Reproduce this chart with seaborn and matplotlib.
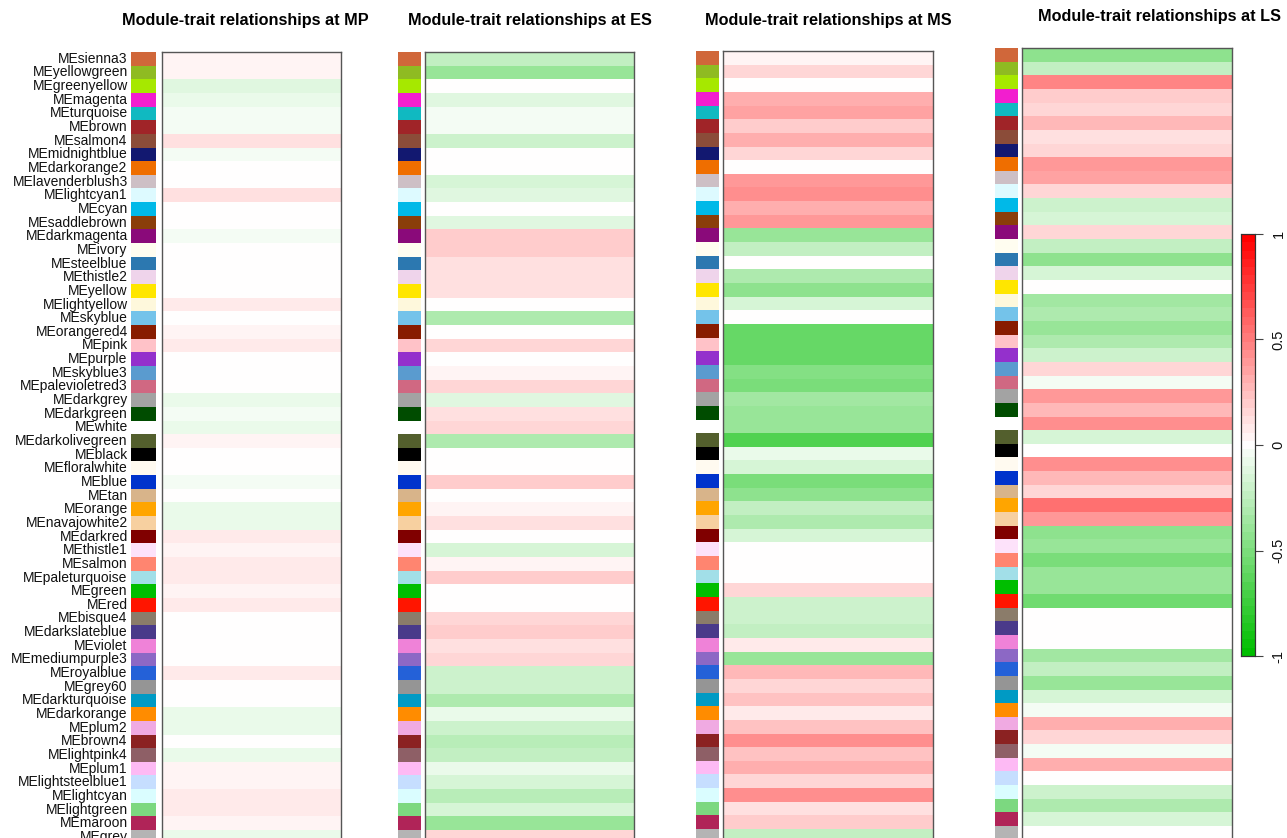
import numpy as np
import pandas as pd
import matplotlib
matplotlib.use("Agg")
import matplotlib.pyplot as plt
from matplotlib.colors import ListedColormap, LinearSegmentedColormap
import seaborn as sns

# ---- data -------------------------------------------------------------
modules = [
    "MEsienna3", "MEyellowgreen", "MEgreenyellow", "MEmagenta", "MEturquoise",
    "MEbrown", "MEsalmon4", "MEmidnightblue", "MEdarkorange2", "MElavenderblush3",
    "MElightcyan1", "MEcyan", "MEsaddlebrown", "MEdarkmagenta", "MEivory",
    "MEsteelblue", "MEthistle2", "MEyellow", "MElightyellow", "MEskyblue",
    "MEorangered4", "MEpink", "MEpurple", "MEskyblue3", "MEpalevioletred3",
    "MEdarkgrey", "MEdarkgreen", "MEwhite", "MEdarkolivegreen", "MEblack",
    "MEfloralwhite", "MEblue", "MEtan", "MEorange", "MEnavajowhite2",
    "MEdarkred", "MEthistle1", "MEsalmon", "MEpaleturquoise", "MEgreen",
    "MEred", "MEbisque4", "MEdarkslateblue", "MEviolet", "MEmediumpurple3",
    "MEroyalblue", "MEgrey60", "MEdarkturquoise", "MEdarkorange", "MEplum2",
    "MEbrown4", "MElightpink4", "MEplum1", "MElightsteelblue1", "MElightcyan",
    "MElightgreen", "MEmaroon", "MEgrey",
]

module_colors = [
    "#D0673A", "#8FBB22", "#A6E800", "#F21ECF", "#10B9C1",
    "#A02428", "#8B4C39", "#121870", "#EF6E00", "#CDBFC5",
    "#DDFAFF", "#00B9E8", "#8A3E0A", "#8A0A7A", "#FFFDF0",
    "#2C78B0", "#EFD4EB", "#FFE600", "#FEF8DC", "#74C3EA",
    "#881C00", "#FFC2C8", "#9430CC", "#5A9BCF", "#D06882",
    "#A3A3A3", "#004C00", "#FFFFFF", "#535F2D", "#000000",
    "#FFFAF0", "#0033CC", "#D8B48A", "#FFA500", "#F7D0A0",
    "#800000", "#FDE2FA", "#FF8570", "#A2DFE8", "#00BE00",
    "#FF1500", "#8B7C6A", "#4A3A8A", "#EF82D8", "#8C68C5",
    "#2461D8", "#959595", "#009AC4", "#FF8C00", "#F0AAE2",
    "#8B2222", "#8E5F66", "#FDBAF4", "#C6DEFF", "#DAFDFF",
    "#7CD880", "#B02458", "#B4B4B4",
]

stages = ["MP", "ES", "MS", "LS"]

cor_MP = [
    0.05, 0.05, -0.12, -0.09, -0.05, -0.05, 0.12, -0.05, 0.0, 0.0,
    0.12, 0.0, 0.0, -0.05, 0.0, 0.0, 0.0, 0.0, 0.09, 0.0,
    0.05, 0.09, 0.0, 0.0, 0.0, -0.08, -0.05, -0.08, 0.05, 0.0,
    0.0, -0.05, 0.0, -0.06, -0.08, 0.09, 0.05, 0.09, 0.09, 0.05,
    0.09, 0.0, 0.0, 0.0, 0.0, 0.08, 0.0, 0.0, -0.08, -0.08,
    0.0, -0.08, 0.05, 0.05, 0.09, 0.09, 0.05, -0.06,
]

cor_ES = [
    -0.25, -0.38, 0.0, -0.10, -0.05, -0.05, -0.20, 0.0, 0.0, -0.14,
    -0.10, 0.0, -0.10, 0.20, 0.20, 0.10, 0.10, 0.10, 0.0, -0.33,
    0.0, 0.15, 0.0, 0.05, 0.15, -0.10, 0.10, 0.15, -0.30, 0.0,
    0.0, 0.20, 0.0, 0.05, 0.10, 0.0, -0.14, 0.05, 0.20, 0.0,
    0.0, 0.17, 0.20, 0.10, 0.15, -0.20, -0.20, -0.33, -0.09, -0.20,
    -0.28, -0.25, -0.09, -0.14, -0.28, -0.14, -0.38, 0.15,
]

cor_MS = [
    0.05, 0.15, 0.0, 0.33, 0.36, 0.20, 0.32, 0.16, 0.0, 0.38,
    0.45, 0.33, 0.38, -0.38, -0.25, 0.0, -0.30, -0.45, -0.14, 0.0,
    -0.60, -0.57, -0.57, -0.48, -0.52, -0.35, -0.38, -0.38, -0.66, -0.09,
    -0.14, -0.50, -0.45, -0.25, -0.33, -0.14, 0.0, 0.0, 0.0, 0.14,
    -0.20, -0.20, -0.25, 0.06, -0.38, 0.28, 0.14, 0.25, 0.06, 0.25,
    0.45, 0.25, 0.32, 0.14, 0.45, 0.10, 0.20, -0.25,
]

cor_LS = [
    -0.45, -0.25, 0.47, 0.20, 0.14, 0.28, 0.10, 0.16, 0.38, 0.35,
    0.16, -0.20, -0.14, 0.16, -0.25, -0.45, -0.14, 0.0, -0.35, -0.30,
    -0.38, -0.33, -0.20, 0.15, -0.05, 0.38, 0.28, 0.45, -0.14, 0.0,
    0.42, 0.28, 0.15, 0.56, 0.38, -0.45, -0.38, -0.50, -0.38, -0.38,
    -0.55, 0.0, 0.0, 0.0, -0.35, -0.25, -0.38, -0.14, -0.05, 0.33,
    0.14, -0.05, 0.33, 0.0, -0.20, -0.30, -0.14, 0.0,
]

cbar_ticks = [-1, -0.5, 0, 0.5, 1]
cbar_ticklabels = ["-1", "-0.5", "0", "0.5", "1"]

# ---- styling ----------------------------------------------------------
sns.set_theme(style="white")
plt.rcParams["font.family"] = ["Liberation Sans", "DejaVu Sans"]
plt.rcParams["axes.unicode_minus"] = False

W, H = 1287, 838
DPI = 100
fig = plt.figure(figsize=(W / DPI, H / DPI), dpi=DPI, facecolor="white")

# green-white-red palette with 51 discrete steps
base = LinearSegmentedColormap.from_list("gwr", ["#00BE00", "#FFFFFF", "#FF0000"])
gwr = ListedColormap(base(np.linspace(0, 1, 51)))
mod_cmap = ListedColormap(module_colors)

corr = pd.DataFrame({"MP": cor_MP, "ES": cor_ES, "MS": cor_MS, "LS": cor_LS},
                    index=modules)
mod_idx = pd.DataFrame({"module": np.arange(len(modules))}, index=modules)

n = len(modules)
row_h = 13.65

# panel geometry in pixels:
# colour strip x0,x1 / heatmap x0,x1 / top / title centre x / title y
layout = {
    "MP": (130.5, 156.3, 162.0, 340.5, 52.0, 245.0, 21.0),
    "ES": (398.0, 421.0, 425.3, 633.7, 52.0, 529.5, 21.0),
    "MS": (696.0, 719.0, 723.3, 932.7, 51.0, 828.5, 20.0),
    "LS": (994.7, 1017.7, 1022.3, 1232.0, 48.0, 1160.0, 17.0),
}


def px_axes(x0, x1, top, bottom):
    return fig.add_axes([x0 / W, 1 - bottom / H, (x1 - x0) / W, (bottom - top) / H])


cbar_ax = px_axes(1241.0, 1255.0, 234.0, 656.0)

for k, stage in enumerate(stages):
    cx0, cx1, hx0, hx1, top, tx, ty = layout[stage]
    bottom = top + n * row_h

    # module colour strip
    ax_c = px_axes(cx0, cx1, top, bottom)
    sns.heatmap(mod_idx, ax=ax_c, cmap=mod_cmap, vmin=-0.5, vmax=n - 0.5,
                cbar=False, xticklabels=False,
                yticklabels=modules if k == 0 else False)
    if k == 0:
        ax_c.tick_params(axis="y", length=0, pad=2, labelsize=10,
                         labelcolor="#111111")
        for t in ax_c.get_yticklabels():
            t.set_rotation(0)
    ax_c.set_xlabel("")
    ax_c.set_ylabel("")

    # correlation column
    ax_h = px_axes(hx0, hx1, top, bottom)
    last = (k == len(stages) - 1)
    sns.heatmap(corr[[stage]], ax=ax_h, cmap=gwr, vmin=-1, vmax=1,
                cbar=last, cbar_ax=cbar_ax if last else None,
                cbar_kws={"ticks": cbar_ticks} if last else None,
                xticklabels=False, yticklabels=False)
    ax_h.set_xlabel("")
    ax_h.set_ylabel("")
    for sp in ax_h.spines.values():
        sp.set_visible(True)
        sp.set_color("#555555")
        sp.set_linewidth(1.0)

    fig.text(tx / W, 1 - ty / H, f"Module-trait relationships at {stage}",
             ha="center", va="center", fontsize=11.7, fontweight="bold",
             color="black")

# colour bar styling
cbar_ax.set_yticks(cbar_ticks)
cbar_ax.set_yticklabels(cbar_ticklabels, rotation=90, va="center")
cbar_ax.tick_params(axis="y", right=True, left=False, length=6, width=0.8,
                    color="#444444", pad=6, labelsize=10.5, labelcolor="#111111")
for sp in cbar_ax.spines.values():
    sp.set_visible(True)
    sp.set_color("#333333")
    sp.set_linewidth(0.8)

fig.savefig("out.png", dpi=DPI, facecolor="white")
